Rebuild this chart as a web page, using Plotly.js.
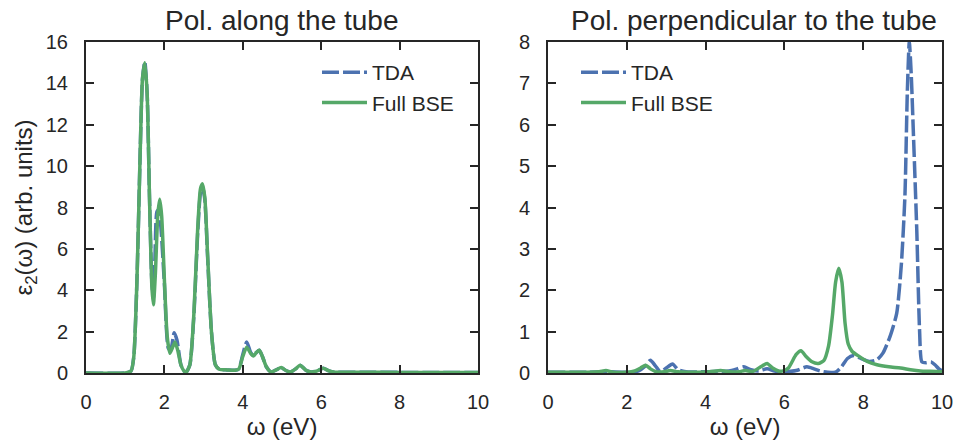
<!DOCTYPE html>
<html><head><meta charset="utf-8">
<script src="https://cdn.plot.ly/plotly-3.0.1.min.js"></script>
<style>html,body{margin:0;padding:0;background:#fff}#g{width:956px;height:444px}</style>
</head><body><div id="g"></div>
<script>
// Left panel: polarization along the tube
const xAlongBSE = [0,1.0,1.15,1.22,1.3,1.38,1.44,1.5,1.56,1.62,1.68,1.72,1.77,1.83,1.88,1.93,2.0,2.07,2.14,2.2,2.27,2.34,2.42,2.5,2.56,2.65,2.75,2.85,2.92,2.97,3.03,3.1,3.2,3.3,3.4,3.6,3.8,3.9,4.0,4.1,4.2,4.27,4.35,4.42,4.5,4.6,4.72,4.85,4.98,5.1,5.22,5.35,5.46,5.6,5.75,5.9,6.05,6.2,6.35,7,8,9,10];
const yAlongBSE = [0,0,0.1,0.8,4.5,10.5,14.2,15.0,13.5,8.5,4.2,3.3,4.8,7.6,8.4,7.6,4.5,1.8,0.95,1.2,1.5,1.1,0.4,0.1,0.05,0.4,2.8,7.0,8.9,9.15,8.5,5.8,2.0,0.4,0.18,0.15,0.13,0.2,0.8,1.25,0.95,0.82,1.0,1.1,0.8,0.3,0.05,0.15,0.26,0.12,0.05,0.2,0.38,0.15,0.05,0.1,0.23,0.1,0.04,0.04,0.03,0.02,0.02];
const xAlongTDA = [0,1.0,1.15,1.22,1.3,1.38,1.44,1.5,1.56,1.62,1.68,1.72,1.76,1.81,1.86,1.92,2.0,2.1,2.16,2.25,2.32,2.42,2.5,2.56,2.65,2.75,2.85,2.92,2.97,3.03,3.1,3.2,3.3,3.4,3.6,3.8,3.9,4.0,4.1,4.2,4.27,4.35,4.42,4.5,4.6,4.72,4.85,4.98,5.1,5.22,5.35,5.46,5.6,5.75,5.9,6.05,6.2,6.35,7,8,9,10];
const yAlongTDA = [0,0,0.1,0.8,4.5,10.5,14.2,15.05,13.5,8.5,4.4,3.6,5.6,7.8,7.9,6.8,4.3,1.2,1.1,1.95,1.6,0.4,0.1,0.05,0.4,2.7,6.8,8.7,9.0,8.4,5.7,2.0,0.4,0.18,0.15,0.13,0.2,0.9,1.5,1.0,0.85,1.0,1.1,0.8,0.3,0.05,0.15,0.26,0.12,0.05,0.2,0.38,0.15,0.05,0.1,0.23,0.1,0.04,0.04,0.03,0.02,0.02];
// Right panel: polarization perpendicular to the tube
const xPerpBSE = [0,1,1.3,1.47,1.65,2.0,2.2,2.35,2.48,2.6,2.75,2.95,3.1,3.3,3.7,4.1,4.38,4.6,4.85,5.0,5.2,5.4,5.56,5.7,5.85,5.97,6.1,6.3,6.42,6.55,6.7,6.86,7.0,7.12,7.22,7.3,7.38,7.46,7.54,7.62,7.72,7.9,8.1,8.35,8.65,8.95,9.2,9.45,9.7,10];
const yPerpBSE = [0.02,0.02,0.03,0.06,0.02,0.02,0.05,0.12,0.19,0.1,0.03,0.03,0.06,0.03,0.02,0.03,0.06,0.03,0.03,0.06,0.04,0.15,0.23,0.12,0.05,0.05,0.12,0.45,0.54,0.4,0.27,0.23,0.3,0.65,1.4,2.2,2.53,2.2,1.2,0.7,0.52,0.4,0.28,0.2,0.15,0.12,0.08,0.05,0.04,0.03];
const xPerpTDA = [0,1,1.5,2.0,2.3,2.45,2.6,2.72,2.85,3.0,3.16,3.3,3.5,4.0,4.3,4.6,4.8,4.97,5.15,5.35,5.56,5.75,6.0,6.3,6.57,6.75,6.9,7.1,7.3,7.45,7.6,7.75,7.95,8.15,8.35,8.5,8.68,8.85,8.97,9.06,9.12,9.17,9.22,9.27,9.36,9.43,9.49,9.6,9.72,9.82,9.92,10];
const yPerpTDA = [0.02,0.02,0.03,0.02,0.05,0.15,0.31,0.18,0.03,0.12,0.22,0.08,0.03,0.03,0.04,0.05,0.1,0.15,0.08,0.05,0.1,0.05,0.03,0.06,0.15,0.1,0.05,0.02,0.02,0.15,0.35,0.42,0.35,0.28,0.32,0.48,0.88,1.44,2.65,4.3,6.8,8.0,7.2,5.9,3.45,1.05,0.27,0.25,0.27,0.2,0.1,0.05];
const xTicks = [0,2,4,6,8,10];
const seriesNames = ['TDA','Full BSE'];

const BLUE = '#4C72B0', GREEN = '#55A868', DARK = '#262626';
const FONT = 'Liberation Sans, Arial, Helvetica, sans-serif';
const DASH = '17px,4px';

const traces = [
  {x:xAlongTDA,y:yAlongTDA,name:seriesNames[0],xaxis:'x',yaxis:'y',mode:'lines',legend:'legend',legendgroup:'a1',
   line:{color:BLUE,width:3.5,dash:DASH,shape:'spline',smoothing:0.6}},
  {x:xAlongBSE,y:yAlongBSE,name:seriesNames[1],xaxis:'x',yaxis:'y',mode:'lines',legend:'legend',legendgroup:'a2',
   line:{color:GREEN,width:3.5,shape:'spline',smoothing:0.6}},
  {x:xPerpTDA,y:yPerpTDA,name:seriesNames[0],xaxis:'x2',yaxis:'y2',mode:'lines',legend:'legend2',legendgroup:'b1',
   line:{color:BLUE,width:3.5,dash:DASH,shape:'spline',smoothing:0.6}},
  {x:xPerpBSE,y:yPerpBSE,name:seriesNames[1],xaxis:'x2',yaxis:'y2',mode:'lines',legend:'legend2',legendgroup:'b2',
   line:{color:GREEN,width:3.5,shape:'spline',smoothing:0.6}}
];

const ax = {
  showline:true, linecolor:DARK, linewidth:2, mirror:'ticks', ticks:'inside', ticklen:8, tickwidth:2,
  tickcolor:DARK, showgrid:false, zeroline:false, tickfont:{family:FONT,size:20,color:DARK}
};
const W=956,H=444;
const titleFont = {family:FONT,size:24,color:DARK};
const legFont = {family:FONT,size:21,color:DARK};
const layout = {
  width:W, height:H, margin:{l:0,r:0,t:0,b:0}, paper_bgcolor:'#fff', plot_bgcolor:'#fff',
  font:{family:FONT,color:DARK},
  xaxis:Object.assign({},ax,{domain:[86/W,478/W],range:[0,10],tickvals:xTicks,anchor:'y',ticklabelstandoff:10,
     title:{text:'ω (eV)',font:titleFont,standoff:4}}),
  yaxis:Object.assign({},ax,{domain:[1-373/H,1-42/H],range:[0,16],dtick:2,anchor:'x',ticklabelstandoff:12,
     title:{text:'ε<sub>2</sub>(ω) (arb. units)',font:titleFont,standoff:6}}),
  xaxis2:Object.assign({},ax,{domain:[548/W,942/W],range:[0,10],tickvals:xTicks,anchor:'y2',ticklabelstandoff:10,
     title:{text:'ω (eV)',font:titleFont,standoff:4}}),
  yaxis2:Object.assign({},ax,{domain:[1-373/H,1-42/H],range:[0,8],dtick:1,anchor:'x2',ticklabelstandoff:12}),
  showlegend:true,
  legend:{x:317/W,y:1-52/H,xanchor:'left',yanchor:'top',bgcolor:'rgba(0,0,0,0)',borderwidth:0,
     font:legFont,traceorder:'grouped',tracegroupgap:0,itemwidth:45},
  legend2:{x:576/W,y:1-52/H,xanchor:'left',yanchor:'top',bgcolor:'rgba(0,0,0,0)',borderwidth:0,
     font:legFont,traceorder:'grouped',tracegroupgap:0,itemwidth:45},
  annotations:[
    {text:'Pol. along the tube',xref:'paper',yref:'paper',x:282/W,y:1-21/H,xanchor:'center',yanchor:'middle',showarrow:false,
     font:{family:FONT,size:28,color:DARK}},
    {text:'Pol. perpendicular to the tube',xref:'paper',yref:'paper',x:754/W,y:1-21/H,xanchor:'center',yanchor:'middle',showarrow:false,
     font:{family:FONT,size:28,color:DARK}}
  ]
};
Plotly.newPlot('g',traces,layout,{displayModeBar:false,staticPlot:true});
</script></body></html>
